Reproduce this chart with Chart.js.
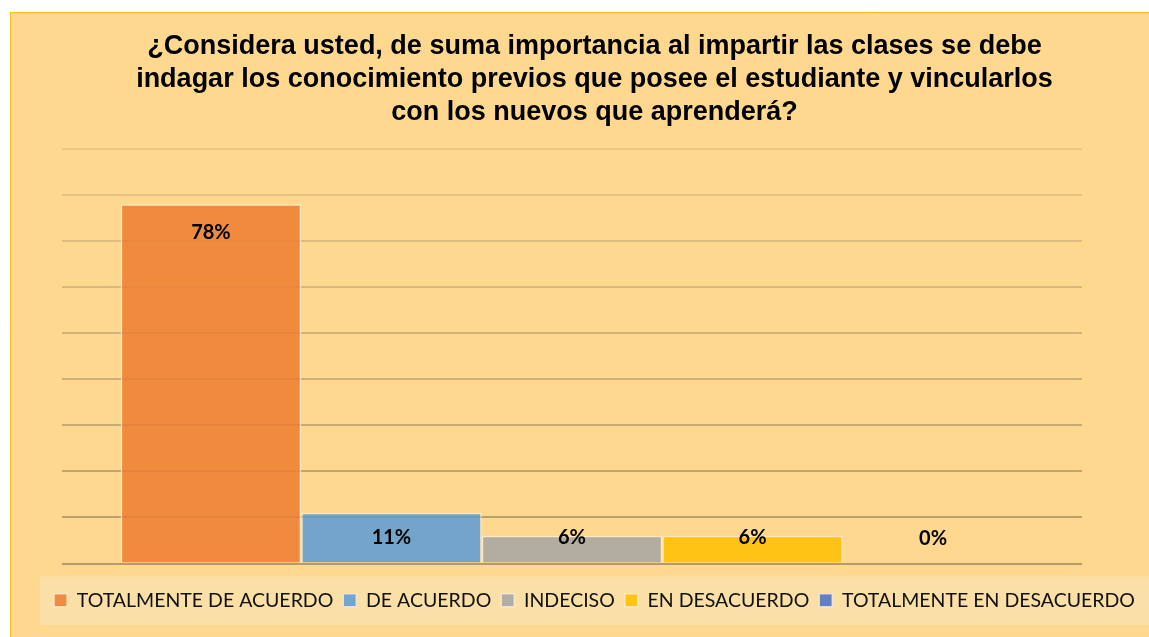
<!DOCTYPE html>
<html>
<head>
<meta charset="utf-8">
<script src="https://cdn.jsdelivr.net/npm/chart.js@4.4.1/dist/chart.umd.min.js"></script>
<style>
  html, body { margin: 0; padding: 0; background: #ffffff; }
  #wrap { position: absolute; left: 0; top: 0; width: 1149px; height: 637px; }
</style>
</head>
<body>
<div id="wrap"><canvas id="surveyChart" width="1149" height="637"></canvas></div>
<script>
'use strict';

// chart data
const titleLines = [
  '¿Considera usted, de suma importancia al impartir las clases se debe',
  'indagar los conocimiento previos que posee el estudiante y vincularlos',
  'con los nuevos que aprenderá?'
];
const answers = ['TOTALMENTE DE ACUERDO', 'DE ACUERDO', 'INDECISO', 'EN DESACUERDO', 'TOTALMENTE EN DESACUERDO'];
const percents = [78, 11, 6, 6, 0];
const answerColors = [
  'rgba(237, 125, 49, 0.85)',
  'rgba(91, 155, 213, 0.85)',
  'rgba(165, 165, 165, 0.85)',
  'rgba(255, 192, 0, 0.85)',
  'rgba(68, 114, 196, 0.85)'
];

// frame + legend band behind everything
let frameBackground = {
  id: 'frameBackground',
  beforeDraw: function(chart) {
    let ctx = chart.ctx;
    ctx.save();
    ctx.fillStyle = '#FED88F';
    ctx.fillRect(10, 12, chart.width - 10, chart.height - 12);
    ctx.strokeStyle = '#F7BE2A';
    ctx.lineWidth = 1;
    ctx.beginPath();
    ctx.moveTo(10.5, chart.height);
    ctx.lineTo(10.5, 12.5);
    ctx.lineTo(chart.width, 12.5);
    ctx.stroke();

    let legend = chart.legend;
    if(legend) {
      ctx.fillStyle = '#FADFA7';
      ctx.fillRect(40, legend.top - 4, chart.width - 40, legend.height + 9);
    }
    ctx.restore();
  }
};

// value labels near the top of each bar
let barLabels = {
  id: 'barLabels',
  afterDatasetsDraw: function(chart) {
    let ctx = chart.ctx;
    ctx.save();
    ctx.font = 'bold 20px Lato, Carlito, sans-serif';
    ctx.fillStyle = '#000000';
    ctx.textAlign = 'center';
    ctx.textBaseline = 'middle';
    chart.data.datasets.forEach(function(ds, i) {
      let bar = chart.getDatasetMeta(i).data[0];
      if(!bar) return;
      let y = Math.min(bar.y + 28, bar.base - 25);
      ctx.fillText(ds.data[0] + '%', bar.x, y);
    });
    ctx.restore();
  }
};

let datasets = answers.map(function(name, i) {
  return {
    label: name,
    data: [percents[i]],
    backgroundColor: answerColors[i],
    borderColor: 'rgba(255, 238, 214, 0.75)',
    borderWidth: 1.5,
    barPercentage: 1,
    categoryPercentage: 0.885
  };
});

let myChart = new Chart(document.getElementById('surveyChart'), {
  type: 'bar',
  data: {
    labels: [''],
    datasets: datasets
  },
  options: {
    responsive: false,
    animation: false,
    layout: { padding: { top: 30, left: 40, right: 0, bottom: 17 } },
    plugins: {
      title: {
        display: true,
        text: titleLines,
        color: '#000000',
        font: { family: '"Liberation Sans", Arial, sans-serif', size: 27, weight: 'bold', lineHeight: 1.222 },
        padding: { top: 0, bottom: 20 }
      },
      legend: {
        position: 'bottom',
        labels: {
          color: '#111111',
          font: { family: 'Lato, Carlito, sans-serif', size: 19.5 },
          boxWidth: 13,
          boxHeight: 13,
          padding: 10
        }
      },
      tooltip: { enabled: false }
    },
    scales: {
      x: {
        display: true,
        grid: { display: false },
        border: { display: false },
        ticks: { display: false },
        afterFit: function(scale) { scale.height = 17; }
      },
      y: {
        min: 0,
        max: 90,
        ticks: { display: false, stepSize: 10 },
        border: { display: false },
        grid: {
          lineWidth: 2,
          drawTicks: false,
          color: function(context) {
            let v = context.tick ? context.tick.value : 0;
            let a = 0.55 - (v / 90) * 0.4;
            return 'rgba(120, 105, 80, ' + a.toFixed(3) + ')';
          }
        },
        afterFit: function(scale) { scale.width = 22; }
      },
      y2: {
        position: 'right',
        display: true,
        grid: { display: false },
        border: { display: false },
        ticks: { display: false },
        afterFit: function(scale) { scale.width = 67; }
      }
    }
  },
  plugins: [frameBackground, barLabels]
});
</script>
</body>
</html>
